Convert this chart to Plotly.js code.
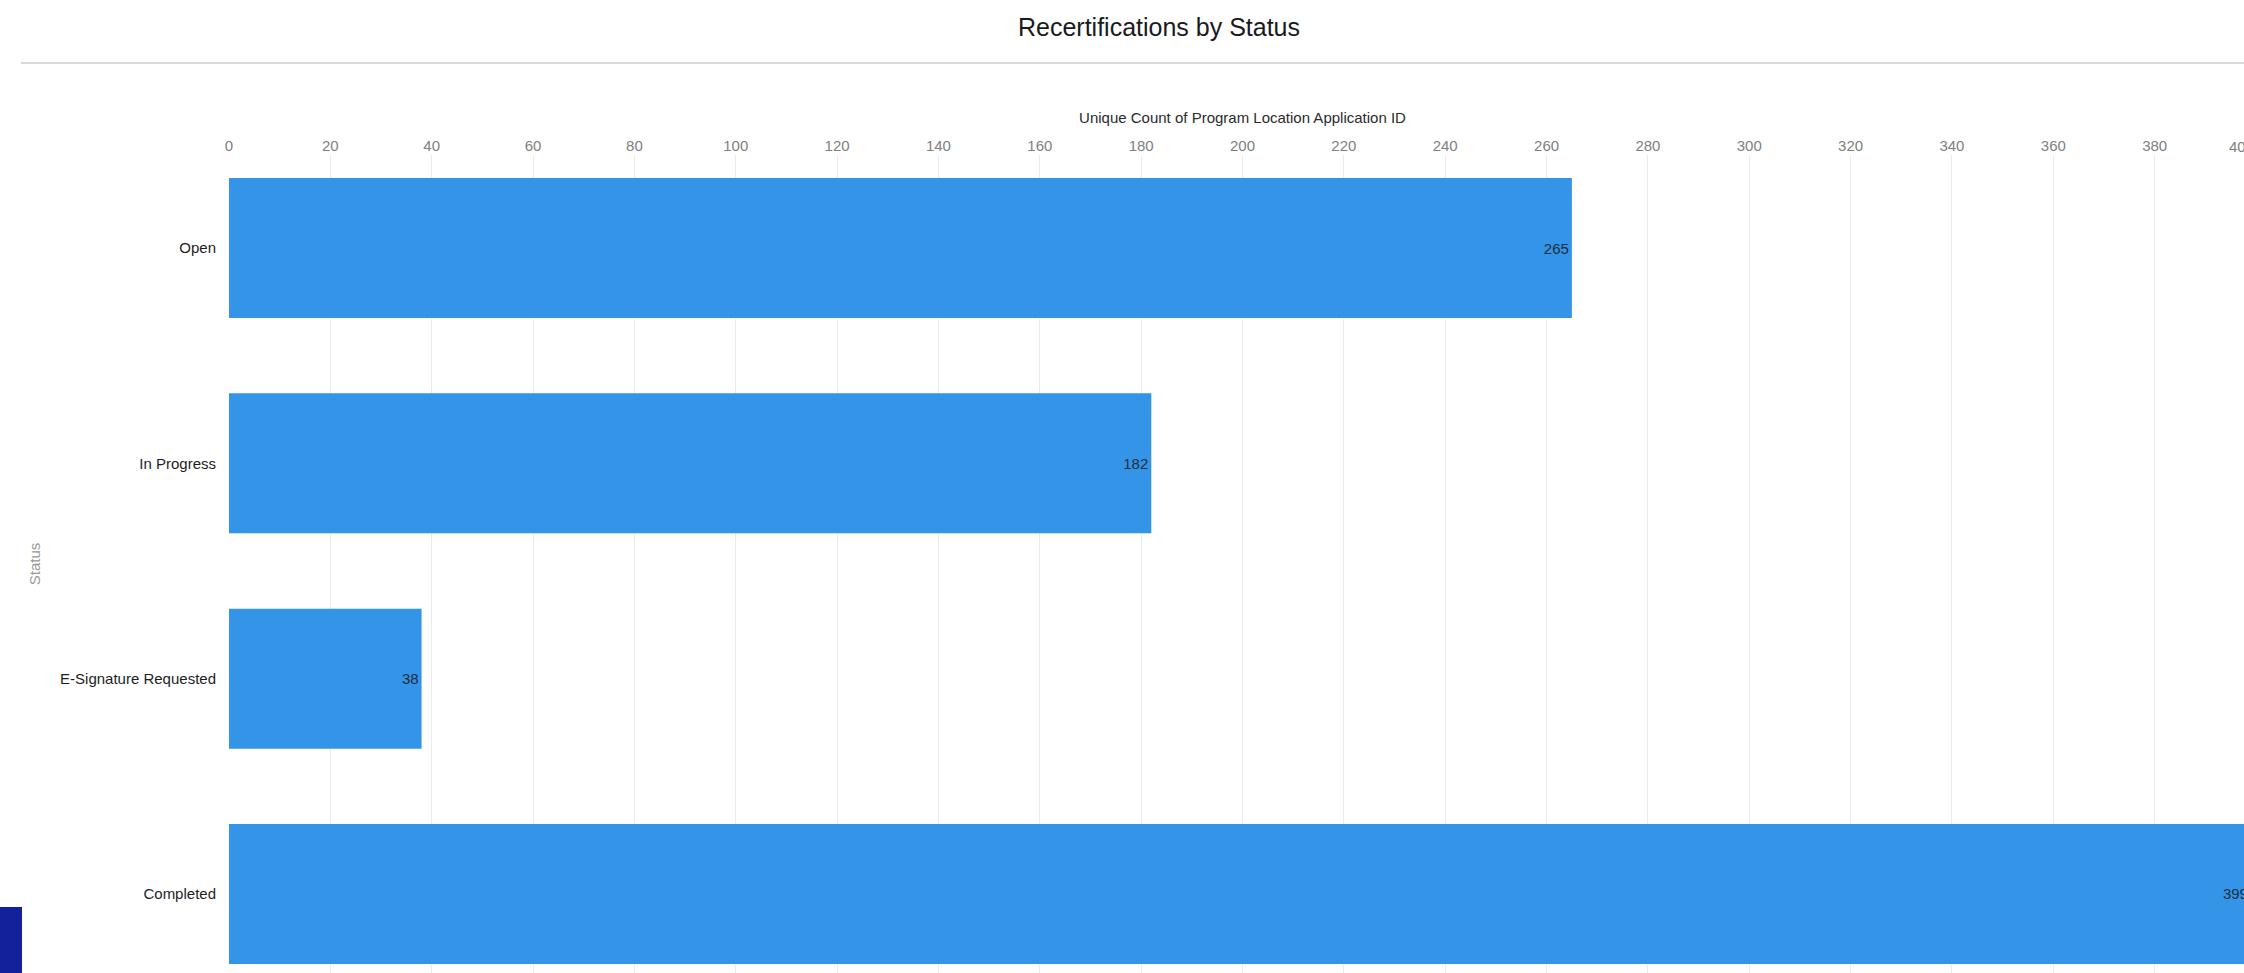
<!DOCTYPE html>
<html>
<head>
<meta charset="utf-8">
<script src="https://cdn.plot.ly/plotly-3.0.1.min.js"></script>
<style>
  html, body { margin: 0; padding: 0; overflow: hidden; background: #fff; }
  #chart { width: 2300px; height: 973px; }
</style>
</head>
<body>
<div id="chart"></div>
<script>
// ---- data ----
const statuses = ["Open", "In Progress", "E-Signature Requested", "Completed"];
const counts = [265, 182, 38, 399];
const xTickVals = [0, 20, 40, 60, 80, 100, 120, 140, 160, 180, 200, 220, 240, 260, 280, 300, 320, 340, 360, 380];
const xEndTick = 400;
const chartTitle = "Recertifications by Status";
const xTitle = "Unique Count of Program Location Application ID";
const yTitle = "Status";

// ---- layout geometry ----
const W = 2300, H = 973;
const M = { l: 229, r: 44, t: 155, b: 0 };
const plotW = W - M.l - M.r, plotH = H - M.t - M.b;
const px2x = p => (p - M.l) / plotW;
const px2y = p => (H - M.b - p) / plotH;

const trace = {
  type: "bar",
  orientation: "h",
  x: counts,
  y: statuses,
  width: 0.65,
  marker: { color: "#3394e8", line: { width: 0 } },
  text: counts.map(String),
  textposition: "inside",
  insidetextanchor: "end",
  textangle: 0,
  textfont: { family: "Liberation Sans, Arial, sans-serif", size: 15, color: "#1f2d3d" },
  hoverinfo: "none",
  cliponaxis: false
};

const layout = {
  width: W, height: H,
  margin: M,
  paper_bgcolor: "#ffffff",
  plot_bgcolor: "#ffffff",
  font: { family: "Liberation Sans, Arial, sans-serif" },
  showlegend: false,
  title: {
    text: chartTitle,
    xref: "container", yref: "container",
    x: 1159 / W, xanchor: "center",
    y: 1 - 27 / H, yanchor: "middle",
    font: { size: 25, color: "#1a1a1a" }
  },
  xaxis: {
    side: "top",
    range: [0, xEndTick],
    autorange: false,
    tickmode: "array",
    tickvals: xTickVals,
    ticks: "",
    showline: false,
    zeroline: false,
    showgrid: true,
    gridcolor: "#ebebeb",
    gridwidth: 1,
    tickfont: { size: 15, color: "#808080" },
    title: { text: xTitle, font: { size: 15, color: "#2b2b2b" }, standoff: 9 },
    automargin: false
  },
  yaxis: {
    type: "category",
    categoryorder: "array",
    categoryarray: statuses,
    range: [3.367, -0.432],
    autorange: false,
    ticks: "",
    showline: false,
    showgrid: false,
    zeroline: false,
    ticklabelstandoff: 12,
    tickfont: { size: 15, color: "#1e1e1e" },
    title: { text: yTitle, font: { size: 15, color: "#999999" }, standoff: 15 },
    automargin: false
  },
  annotations: [
    { text: String(xEndTick), x: xEndTick, xref: "x", xanchor: "right",
      y: px2y(147), yref: "paper", yanchor: "middle", showarrow: false,
      font: { size: 15, color: "#808080" } }
  ],
  shapes: [
    { type: "line", xref: "paper", yref: "paper",
      x0: px2x(21), x1: px2x(W), y0: px2y(63), y1: px2y(63),
      line: { color: "#d9d9d9", width: 2 } },
    { type: "line", xref: "x", yref: "paper",
      x0: xEndTick, x1: xEndTick, y0: 0, y1: 1,
      line: { color: "#ebebeb", width: 1 }, layer: "below" },
    { type: "rect", xref: "paper", yref: "paper",
      x0: px2x(0), x1: px2x(22), y0: px2y(973), y1: px2y(907),
      fillcolor: "#13219b", line: { width: 0 } }
  ]
};

Plotly.newPlot("chart", [trace], layout, { displayModeBar: false, staticPlot: true });
</script>
</body>
</html>
